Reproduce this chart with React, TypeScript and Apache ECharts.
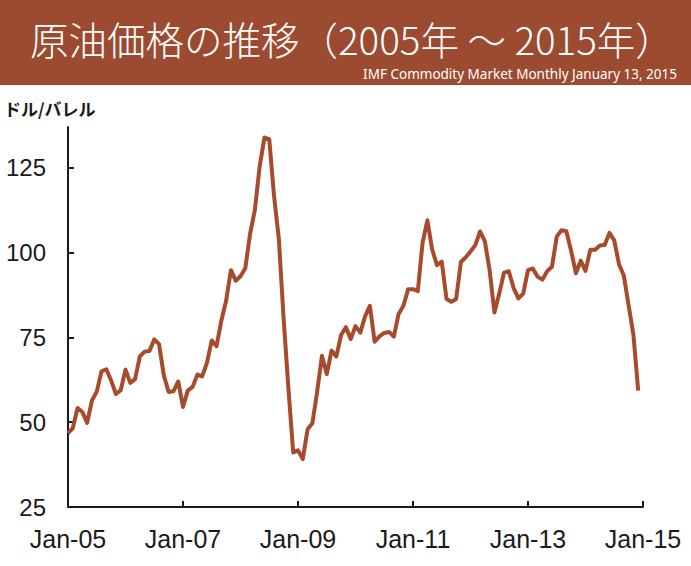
import React, { useEffect, useRef } from "react";
import * as echarts from "echarts";

const TITLE = "原油価格の推移（2005年 ～ 2015年）";
const SOURCE = "IMF Commodity Market Monthly January 13, 2015";
const UNIT = "ドル/バレル";

const MONTHS = ["Jan", "Feb", "Mar", "Apr", "May", "Jun", "Jul", "Aug", "Sep", "Oct", "Nov", "Dec"];
const START_YEAR = 2005;
const END_YEAR = 2015;
const Y_TICKS = [25, 50, 75, 100, 125];

// monthly crude oil price (US$/barrel)
const p2005 = [46.8, 48.2, 54.2, 53.0, 49.8, 56.4, 59.0, 65.0, 65.6, 62.3, 58.3, 59.4];
const p2006 = [65.5, 61.6, 62.7, 69.4, 70.8, 71.0, 74.4, 73.0, 63.8, 58.9, 59.1, 62.0];
const p2007 = [54.5, 59.3, 60.4, 64.0, 63.5, 67.5, 74.1, 72.4, 79.9, 85.8, 94.8, 91.7];
const p2008 = [93.0, 95.4, 105.5, 112.6, 125.4, 133.9, 133.4, 116.7, 104.1, 80.5, 60.0, 41.1];
const p2009 = [41.7, 39.1, 47.9, 49.7, 59.0, 69.6, 64.2, 71.1, 69.4, 75.7, 78.0, 74.5];
const p2010 = [78.3, 76.4, 81.2, 84.3, 73.7, 75.3, 76.3, 76.6, 75.2, 81.9, 84.3, 89.2];
const p2011 = [89.2, 88.6, 102.9, 109.5, 100.9, 96.3, 97.3, 86.3, 85.5, 86.3, 97.2, 98.6];
const p2012 = [100.3, 102.2, 106.2, 103.3, 94.7, 82.3, 87.9, 94.1, 94.5, 89.5, 86.5, 87.9];
const p2013 = [94.8, 95.3, 92.9, 92.0, 94.5, 95.8, 104.7, 106.6, 106.3, 100.5, 93.9, 97.6];
const p2014 = [94.6, 100.8, 100.8, 102.1, 102.2, 105.8, 103.6, 96.5, 93.2, 84.4, 75.8, 59.3];

const PRICES = [p2005, p2006, p2007, p2008, p2009, p2010, p2011, p2012, p2013, p2014].flat();

const CATEGORIES: string[] = [];
for (let y = START_YEAR; y < END_YEAR; y++) {
  for (const m of MONTHS) CATEGORIES.push(`${m}-${String(y).slice(2)}`);
}
CATEGORIES.push(`Jan-${String(END_YEAR).slice(2)}`);

const BANNER = "#9C4A30";
const LINE = "#A84B2D";
const INK = "#1a1a1a";

export default function App() {
  const ref = useRef<HTMLDivElement>(null);
  useEffect(() => {
    if (!ref.current) return;
    const chart = echarts.init(ref.current, null, { renderer: "svg" });
    chart.setOption({
      animation: false,
      backgroundColor: "#ffffff",
      grid: { left: 68, right: 48, top: 127, bottom: 59 },
      xAxis: {
        type: "category",
        data: CATEGORIES,
        boundaryGap: false,
        axisLine: { lineStyle: { color: INK, width: 2 } },
        axisTick: { inside: true, length: 6, interval: 23, lineStyle: { color: INK, width: 2 } },
        axisLabel: {
          interval: 23,
          fontSize: 25,
          color: INK,
          fontFamily: "Liberation Sans, Arial, sans-serif",
          margin: 19,
        },
        splitLine: { show: false },
      },
      yAxis: {
        type: "value",
        min: 25,
        max: 137,
        interval: 25,
        axisLine: { show: true, lineStyle: { color: INK, width: 2 } },
        axisTick: { show: true, inside: true, length: 6, customValues: Y_TICKS, lineStyle: { color: INK, width: 2 } },
        axisLabel: {
          customValues: Y_TICKS,
          fontSize: 24,
          color: INK,
          fontFamily: "Liberation Sans, Arial, sans-serif",
          margin: 22,
        },
        splitLine: { show: false },
      },
      series: [
        {
          type: "line",
          data: PRICES,
          showSymbol: false,
          lineStyle: { color: LINE, width: 4, join: "round" },
          itemStyle: { color: LINE },
        },
      ],
      graphic: [
        { type: "rect", left: 0, top: 0, shape: { x: 0, y: 0, width: 691, height: 85 }, style: { fill: BANNER } },
        {
          type: "text",
          x: 30,
          y: 38,
          style: {
            text: TITLE,
            fill: "#ffffff",
            fontSize: 38.5,
            lineHeight: 40,
            fontFamily: "Noto Sans CJK JP, sans-serif",
            fontWeight: 300,
            textVerticalAlign: "middle",
            textAlign: "left",
          },
        },
        {
          type: "text",
          x: 677,
          y: 74,
          style: {
            text: SOURCE,
            fill: "#ffffff",
            fontSize: 13.5,
            lineHeight: 14,
            fontFamily: "Noto Sans, sans-serif",
            textVerticalAlign: "middle",
            textAlign: "right",
          },
        },
        {
          type: "text",
          x: 4,
          y: 108,
          style: {
            text: UNIT,
            fill: INK,
            fontSize: 17,
            fontWeight: "bold",
            fontFamily: "Noto Sans CJK JP, sans-serif",
            textVerticalAlign: "middle",
            textAlign: "left",
          },
        },
      ],
    });
    return () => chart.dispose();
  }, []);
  return (
    <div
      ref={ref}
      style={{ position: "fixed", left: 0, top: 0, width: 691, height: 566 }}
    />
  );
}
